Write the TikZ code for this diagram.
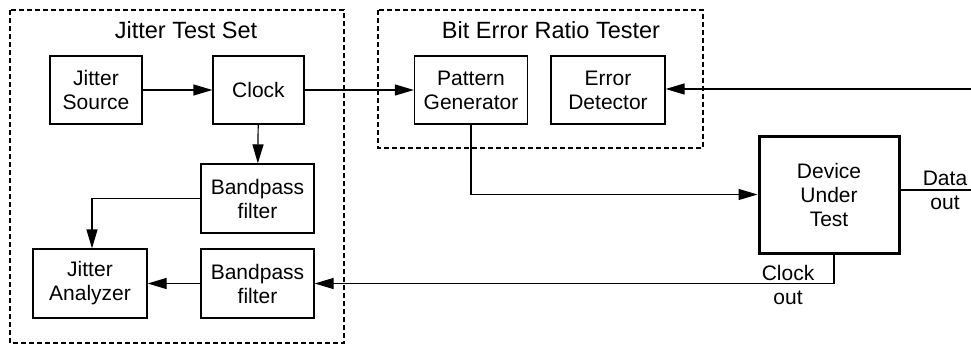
\documentclass[tikz,border=0pt]{standalone}
\usepackage{fontspec}
\setmainfont{Liberation Sans}
\usetikzlibrary{arrows.meta}
\tikzset{
  blk/.style={draw, line width=1.2pt, align=center, font=\fontsize{21}{24}\selectfont, inner sep=0pt},
  grp/.style={draw, line width=1.6pt, dash pattern=on 5pt off 3pt},
  ttl/.style={anchor=base, font=\fontsize{23.5}{27}\selectfont},
  lbl/.style={align=center, font=\fontsize{21}{23}\selectfont, inner sep=0pt},
  conn/.style={line width=1.2pt, -{Triangle[length=19pt,width=11pt]}},
  wire/.style={line width=1.2pt},
}
\begin{document}
\begin{tikzpicture}[x=1pt,y=-1pt]
\useasboundingbox (0,0) rectangle (971,345);
% group boxes
\draw[grp] (10,10) rectangle (344,343);
\draw[grp] (378,10) rectangle (703,148);
\node[ttl] (t1) at (186,38) {Jitter Test Set};
\node[ttl] (t2) at (551,38) {Bit Error Ratio Tester};
% blocks
\node[blk, minimum width=92pt, minimum height=68pt] (js) at (96,90) {Jitter\\Source};
\node[blk, minimum width=91pt, minimum height=68pt] (clk) at (258.5,90) {Clock};
\node[blk, minimum width=113pt, minimum height=69pt] (bp1) at (257.5,198.5) {Bandpass\\filter};
\node[blk, minimum width=113pt, minimum height=69pt] (bp2) at (257.5,283.5) {Bandpass\\filter};
\node[blk, minimum width=114pt, minimum height=69pt] (ja) at (90,283.5) {Jitter\\Analyzer};
\node[blk, minimum width=113pt, minimum height=68pt] (pg) at (471,90) {Pattern\\Generator};
\node[blk, minimum width=114pt, minimum height=68pt] (ed) at (608,90) {Error\\Detector};
\node[blk, line width=3pt, minimum width=140pt, minimum height=117pt] (dut) at (829,194.5) {Device\\Under\\Test};
% free ends
\coordinate (edin) at (971,89);
\coordinate (dout) at (971,190);
\coordinate (ckout) at (834,253);
% connectors
\draw[conn] (js) -- (clk);
\draw[conn] (clk) -- (pg);
\draw[conn] (clk) -- (bp1);
\draw[conn] (bp1.west) -| ([xshift=2pt]ja.north);
\draw[conn] (bp2) -- (ja);
\draw[conn] (pg.south) |- (dut.west);
\draw[conn] (edin) -- (ed.east |- edin);
\draw[wire] (dut.east |- dout) -- (dout);
\draw[conn] (ckout) |- (bp2.east);
% labels
\node[lbl] (dlbl) at (945,190) {Data\\[1pt]out};
\node[lbl] (clbl) at (788,285) {Clock\\[1pt]out};
\end{tikzpicture}
\end{document}
